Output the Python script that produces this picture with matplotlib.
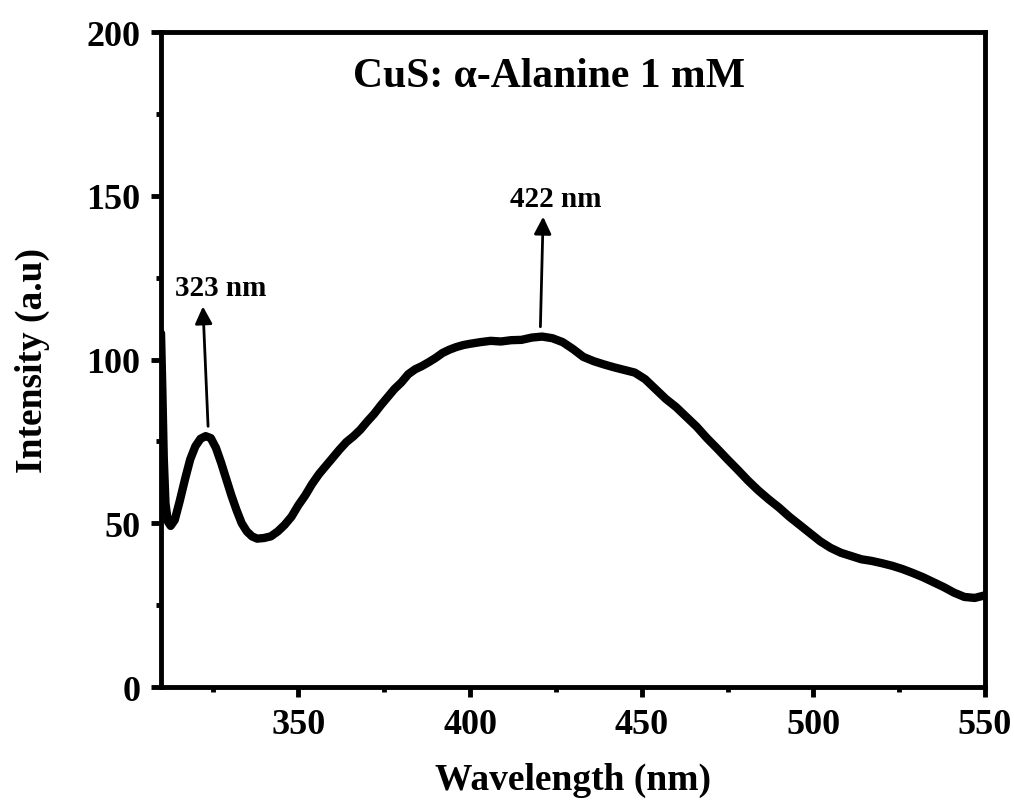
import matplotlib
matplotlib.use('Agg')
import matplotlib.pyplot as plt
from matplotlib.ticker import MultipleLocator

plt.rcParams['font.family'] = ['Liberation Serif', 'DejaVu Serif']
plt.rcParams['font.weight'] = 'bold'

# PL spectrum
wavelength = [310.0, 310.4, 310.8, 311.3, 312.0, 312.8, 314.0, 315.5, 317.0, 318.5,
              320.0, 321.5, 323.0, 324.5, 326.0, 327.5, 329.0, 330.5, 332.0, 333.5,
              335.0, 336.5, 338.0, 340.0, 342.0, 344.0, 346.0, 348.0, 350.0, 352.0,
              354.0, 356.0, 358.0, 360.0, 362.0, 364.0, 366.0, 368.0, 370.0, 372.0,
              374.0, 376.0, 378.0, 380.0, 382.0, 384.0, 386.0, 388.0, 390.0, 392.0,
              394.0, 396.0, 398.0, 400.0, 403.0, 406.0, 409.0, 412.0, 415.0, 418.0,
              421.0, 424.0, 427.0, 430.0, 433.0, 436.0, 439.0, 442.0, 445.0, 448.0,
              451.0, 454.0, 457.0, 460.0, 463.0, 466.0, 469.0, 472.0, 475.0, 478.0,
              481.0, 484.0, 487.0, 490.0, 493.0, 496.0, 499.0, 502.0, 505.0, 508.0,
              511.0, 514.0, 517.0, 520.0, 523.0, 526.0, 529.0, 532.0, 535.0, 538.0,
              541.0, 544.0, 547.0, 550.0]
intensity = [108.0, 90.0, 70.0, 56.0, 50.5, 49.2, 51.0, 57.0, 63.5, 69.5,
             73.5, 75.8, 76.6, 76.0, 73.0, 68.5, 63.5, 58.5, 54.0, 50.0,
             47.5, 46.0, 45.3, 45.5, 46.0, 47.5, 49.5, 52.0, 55.5, 58.5,
             62.0, 65.0, 67.5, 70.0, 72.5, 74.8, 76.5, 78.5, 81.0, 83.3,
             86.0, 88.5, 91.0, 93.0, 95.5, 97.0, 98.0, 99.2, 100.5, 102.0,
             103.0, 103.8, 104.4, 104.8, 105.3, 105.7, 105.5, 105.9, 106.0, 106.7,
             107.0, 106.5, 105.3, 103.2, 100.8, 99.5, 98.5, 97.6, 96.8, 96.0,
             94.0, 91.0, 88.0, 85.5, 82.5, 79.5, 76.0, 72.8, 69.5, 66.3,
             63.0, 60.0, 57.3, 54.8, 52.0, 49.5, 47.0, 44.5, 42.5, 41.0,
             40.0, 39.0, 38.5, 37.8, 37.0, 36.0, 34.8, 33.5, 32.0, 30.5,
             28.8, 27.5, 27.2, 28.0]

title = 'CuS: α-Alanine 1 mM'
peak_labels = ['323 nm', '422 nm']
peak_text_pos = [(327.4, 122.0), (425.1, 149.1)]
arrow_tips = [(322.2, 116.2), (421.3, 143.6)]
arrow_tails = [(323.7, 79.6), (420.5, 110.0)]

fig = plt.figure(figsize=(10.14, 8.03), dpi=100)
ax = fig.add_axes([0.1588, 0.1432, 0.8126, 0.8157])

ax.plot(wavelength, intensity, color='black', lw=6, solid_capstyle='round',
        solid_joinstyle='round')

for lab, tpos, tip, tail in zip(peak_labels, peak_text_pos, arrow_tips, arrow_tails):
    ax.annotate('', xy=tip, xytext=tail,
                arrowprops=dict(arrowstyle='-|>', color='black', lw=2,
                                mutation_scale=26, shrinkA=0, shrinkB=0))
    ax.text(tpos[0], tpos[1], lab, ha='center', va='center', fontsize=21,
            fontweight='bold')

ax.text(423.0, 186.6, title, ha='center', va='center', fontsize=30,
        fontweight='bold')

ax.set_xlim(310, 550)
ax.set_ylim(0, 200)
ax.xaxis.set_major_locator(MultipleLocator(50))
ax.xaxis.set_minor_locator(MultipleLocator(25))
ax.yaxis.set_major_locator(MultipleLocator(50))
ax.yaxis.set_minor_locator(MultipleLocator(25))

for s in ax.spines.values():
    s.set_linewidth(3.5)
ax.tick_params(which='major', direction='out', length=7, width=3.5,
               labelsize=26, pad=8)
ax.tick_params(which='minor', direction='out', length=3.5, width=3.5)
for lab in ax.get_xticklabels() + ax.get_yticklabels():
    lab.set_fontweight('bold')

ax.set_xlabel('Wavelength (nm)', fontsize=27, fontweight='bold', labelpad=15)
ax.set_ylabel('Intensity (a.u)', fontsize=27, fontweight='bold', labelpad=26)

fig.savefig('out.png', dpi=100)
